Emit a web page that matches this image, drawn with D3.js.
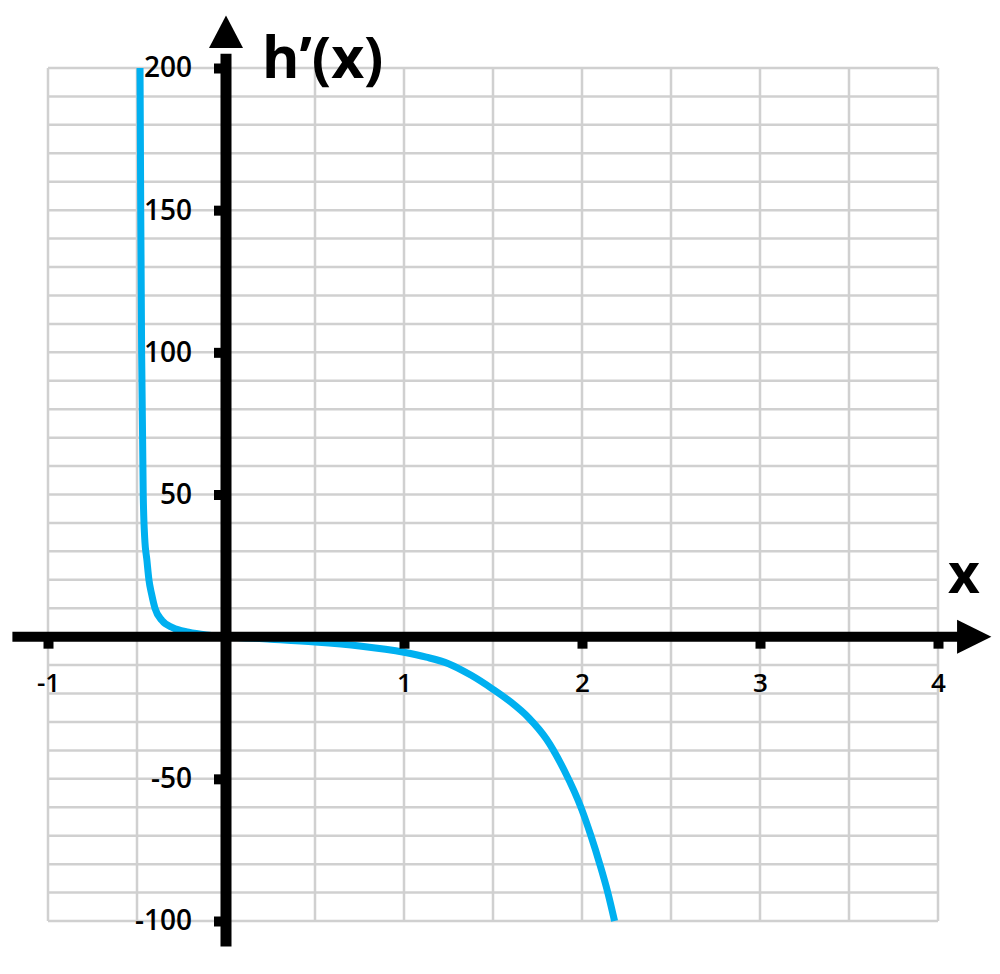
<!DOCTYPE html>
<html>
<head>
<meta charset="utf-8">
<script src="https://cdn.jsdelivr.net/npm/d3@7"></script>
<style>
  body { margin: 0; background: #fff; }
  text { font-family: "Open Sans", "DejaVu Sans", sans-serif; }
</style>
</head>
<body>
<script>
// values (x, h'(x))
const curveX = [-0.483, -0.479, -0.474, -0.465, -0.457, -0.444, -0.433, -0.418, -0.399, -0.36, -0.3, -0.21, -0.11, 0,
  0.25, 0.5, 0.75, 1, 1.125, 1.25, 1.375, 1.5, 1.6, 1.7, 1.8, 1.9, 2.0, 2.05, 2.1, 2.145, 2.183];
const curveY = [200, 150, 100, 50, 35, 26.7, 20, 15, 10, 5.7, 3.2, 1.6, 0.6, 0,
  -0.9, -1.9, -3.3, -5.5, -7.2, -9.5, -13.5, -18.5, -23, -28.5, -36, -47, -61, -70, -80, -90, -100];

const xTicks = [-1, 1, 2, 3, 4];
const yTicks = [-100, -50, 50, 100, 150, 200];
const xGrid = d3.range(-1, 4.01, 0.5);
const yGrid = d3.range(-100, 201, 10);

const W = 1000, H = 974;

const svg = d3.select("body").append("svg")
  .attr("width", W)
  .attr("height", H);

const x = d3.scaleLinear().domain([-1, 4]).range([48, 938]);
const y = d3.scaleLinear().domain([-100, 200]).range([921, 68]);

// grid
const grid = svg.append("g").attr("stroke", "#d0d0d0").attr("stroke-width", 2.5);
grid.selectAll(".v").data(xGrid).join("line")
  .attr("x1", d => x(d)).attr("x2", d => x(d))
  .attr("y1", y(-100)).attr("y2", y(200));
grid.selectAll(".h").data(yGrid).join("line")
  .attr("x1", x(-1)).attr("x2", x(4))
  .attr("y1", d => y(d)).attr("y2", d => y(d));

// curve
const pts = curveX.map((d, i) => [d, curveY[i]]);
const line = d3.line()
  .x(d => x(d[0]))
  .y(d => y(d[1]))
  .curve(d3.curveMonotoneX);

svg.append("path")
  .datum(pts)
  .attr("d", line)
  .attr("fill", "none")
  .attr("stroke", "#00b0f0")
  .attr("stroke-width", 7)
  .attr("stroke-linejoin", "round");

// axes (ticks + labels), plain hyphen for negatives like the original
const fmt = d => String(d);
const xAxis = svg.append("g")
  .attr("transform", `translate(0,${y(0)})`)
  .call(d3.axisBottom(x).tickValues(xTicks).tickSize(12).tickPadding(25).tickFormat(fmt));
const yAxis = svg.append("g")
  .attr("transform", `translate(${x(0)},0)`)
  .call(d3.axisLeft(y).tickValues(yTicks).tickSize(12).tickPadding(22).tickFormat(fmt));

[xAxis, yAxis].forEach(g => {
  g.select(".domain").remove();
  g.selectAll(".tick line").attr("stroke", "#000").attr("stroke-width", 10);
  g.selectAll(".tick text")
    .attr("fill", "#000")
    .style("font-size", "28px")
    .style("font-weight", 600)
    .style("font-family", "'Open Sans', sans-serif");
});
xAxis.selectAll(".tick text").style("font-size", "26px");

// thick axis lines with arrows
svg.append("line")
  .attr("x1", x(-1.2)).attr("x2", x(4.12))
  .attr("y1", y(0)).attr("y2", y(0))
  .attr("stroke", "#000").attr("stroke-width", 10);
svg.append("path")
  .attr("d", `M${x(4.107)},${y(0) - 17}L${x(4.3)},${y(0)}L${x(4.107)},${y(0) + 17}Z`)
  .attr("fill", "#000");

svg.append("line")
  .attr("x1", x(0)).attr("x2", x(0))
  .attr("y1", y(-109)).attr("y2", y(205))
  .attr("stroke", "#000").attr("stroke-width", 11);
svg.append("path")
  .attr("d", `M${x(0) - 17},${y(207)}L${x(0)},${y(218.5)}L${x(0) + 17},${y(207)}Z`)
  .attr("fill", "#000");

// axis titles
svg.append("text")
  .attr("x", 262).attr("y", 78)
  .style("font-size", "57px")
  .style("font-weight", 700)
  .text("h’(x)");

svg.append("text")
  .attr("x", 948).attr("y", 593)
  .style("font-size", "55px")
  .style("font-weight", 700)
  .text("x");
</script>
</body>
</html>
